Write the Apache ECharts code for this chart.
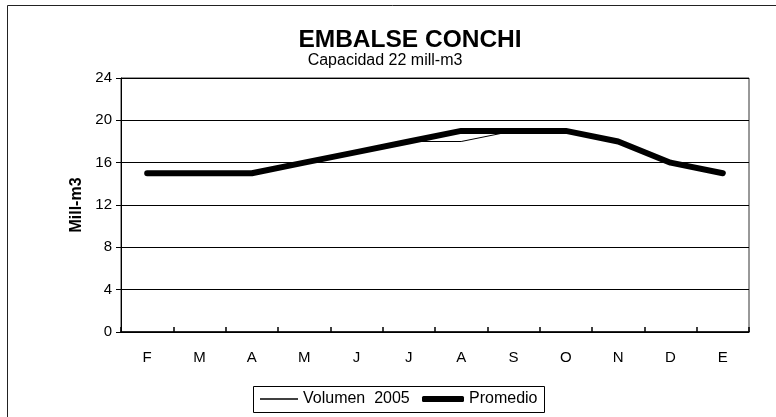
<!DOCTYPE html>
<html>
<head>
<meta charset="utf-8">
<script src="https://cdn.jsdelivr.net/npm/echarts@6/dist/echarts.min.js"></script>
<style>
html,body{margin:0;padding:0;background:#fff;}
#chart{width:776px;height:417px;}
</style>
</head>
<body>
<div id="chart"></div>
<script>
var months = ['F','M','A','M','J','J','A','S','O','N','D','E'];
var volumen2005 = [15,15,15,16,17,18,18,19,19,18,16,15];
var promedio = [15,15,15,16,17,18,19,19,19,18,16,15];
var yTicks = {min:0, max:24, interval:4};

var chart = echarts.init(document.getElementById('chart'), null, {renderer:'canvas'});
var font = 'Liberation Sans, Arial, sans-serif';
chart.setOption({
  animation:false,
  backgroundColor:'#fff',
  textStyle:{fontFamily:font},
  graphic:[{
    type:'rect', shape:{x:7.5,y:5.5,width:800,height:450},
    style:{fill:null, stroke:'#222', lineWidth:1}, z:-10
  },{
    type:'rect', shape:{x:253.5,y:386.5,width:291,height:26},
    style:{fill:null, stroke:'#000', lineWidth:1}, z:-5
  }],
  title:[{
    text:'EMBALSE CONCHI', left:405, textAlign:'center', top:23,
    textStyle:{fontFamily:font, fontSize:24.5, fontWeight:'bold', color:'#000'}
  },{
    text:'Capacidad 22 mill-m3', left:380, textAlign:'center', top:48,
    textStyle:{fontFamily:font, fontSize:16, fontWeight:'normal', color:'#000'}
  }],
  grid:{left:121, top:78, right:27, bottom:85, show:true, borderColor:'#333', borderWidth:1, backgroundColor:'transparent'},
  legend:[{
    left:260, top:391, padding:0, itemWidth:38, itemHeight:1.5, icon:'rect',
    textStyle:{fontFamily:font, fontSize:16, color:'#000'},
    data:[{name:'Volumen  2005'}]
  },{
    left:422, top:391, padding:0, itemWidth:42, itemHeight:6, icon:'roundRect',
    textStyle:{fontFamily:font, fontSize:16, color:'#000'},
    data:[{name:'Promedio'}]
  }],
  xAxis:{
    type:'category', data:months, boundaryGap:true,
    axisLine:{show:true, lineStyle:{color:'#000', width:1.5}},
    axisTick:{show:true, inside:true, length:5, lineStyle:{color:'#000', width:1.5}},
    axisLabel:{color:'#000', fontSize:15, fontFamily:font, margin:18},
    splitLine:{show:false}
  },
  yAxis:{
    type:'value', min:yTicks.min, max:yTicks.max, interval:yTicks.interval,
    name:'Mill-m3', nameLocation:'middle', nameGap:36, nameRotate:90,
    nameTextStyle:{fontFamily:font, fontSize:16, fontWeight:'bold', color:'#000'},
    axisLine:{show:true, lineStyle:{color:'#000', width:1}},
    axisTick:{show:true, inside:false, length:5, lineStyle:{color:'#000'}},
    axisLabel:{color:'#000', fontSize:15, fontFamily:font, margin:9},
    splitLine:{show:true, lineStyle:{color:'#000', width:1}}
  },
  series:[{
    name:'Volumen  2005', type:'line', data:volumen2005, symbol:'none',
    lineStyle:{color:'#000', width:1}, itemStyle:{color:'#000'}, z:3
  },{
    name:'Promedio', type:'line', data:promedio, symbol:'none',
    lineStyle:{color:'#000', width:6, cap:'round', join:'round'}, itemStyle:{color:'#000'}, z:2
  }]
});
</script>
</body>
</html>
